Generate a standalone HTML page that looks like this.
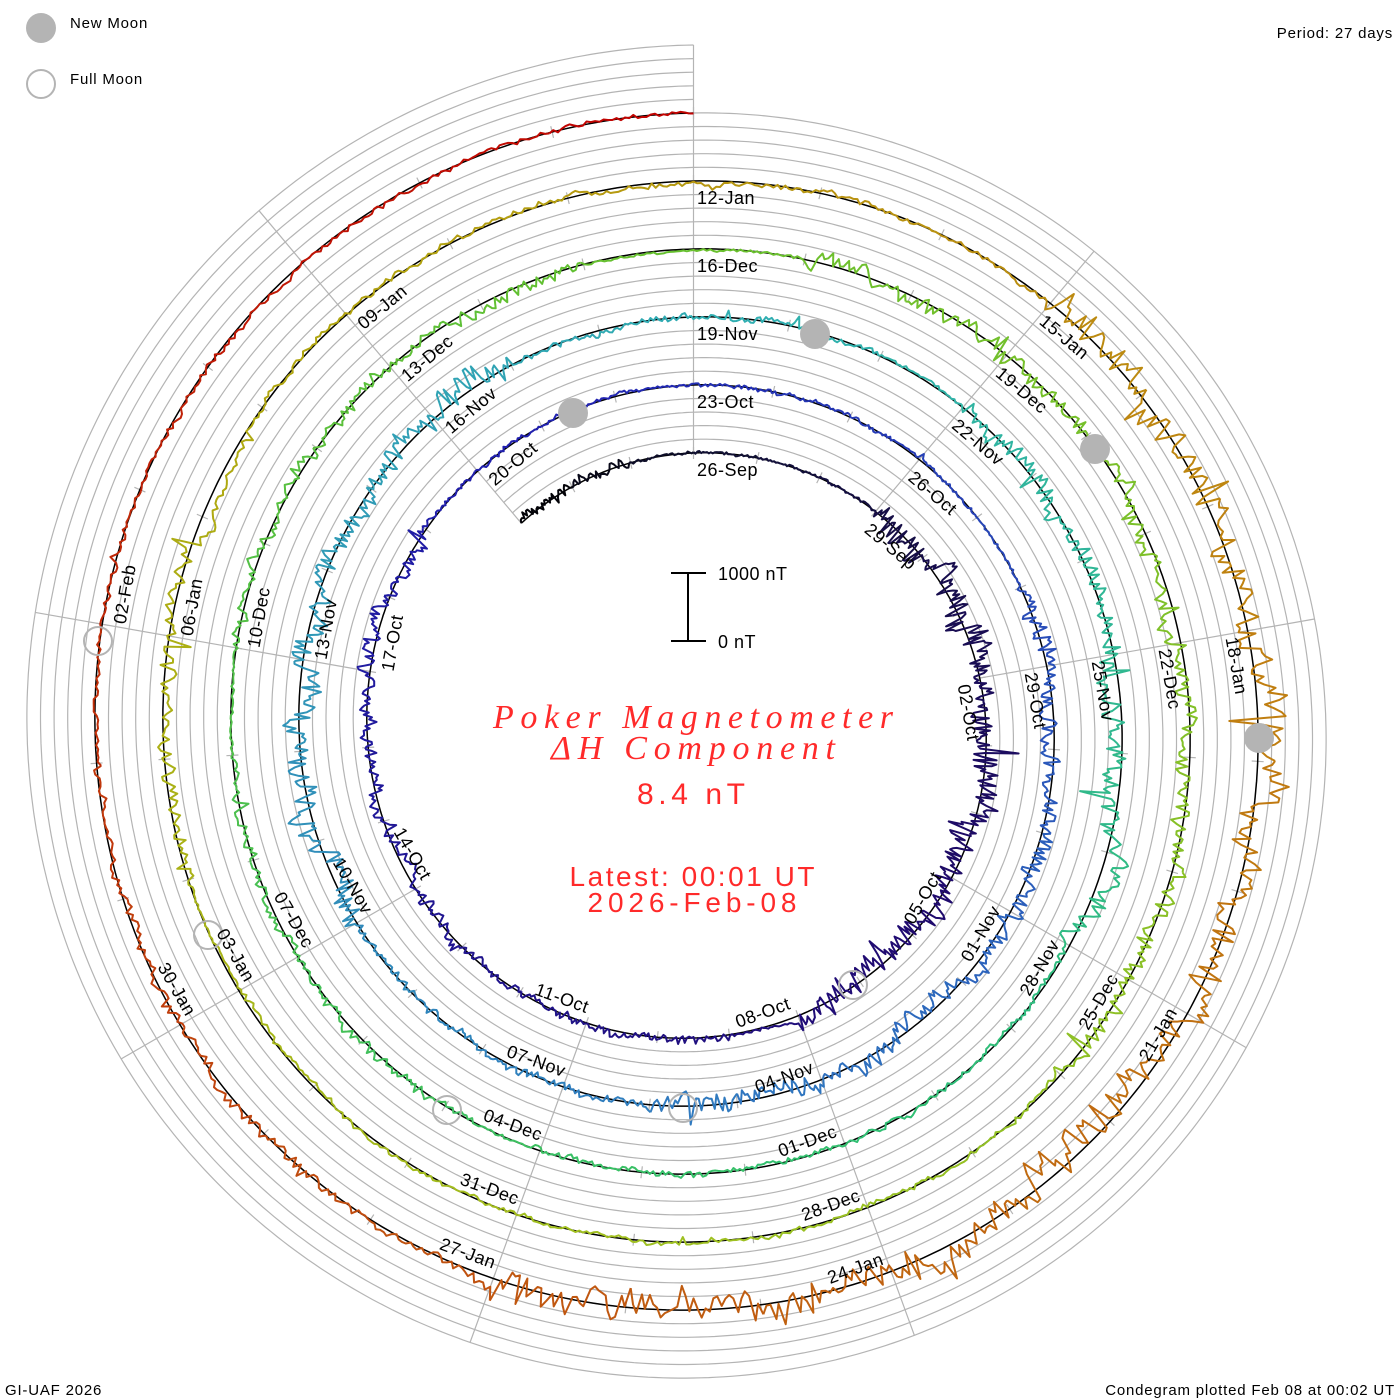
<!DOCTYPE html>
<html><head><meta charset="utf-8"><style>
html,body{margin:0;padding:0;background:#fff;}
svg{display:block;}
.lbl{font-family:"Liberation Sans",sans-serif;font-size:18px;fill:#000;letter-spacing:0.5px;}
.corner{font-family:"Liberation Sans",sans-serif;font-size:15px;fill:#000;letter-spacing:0.8px;}
.red{fill:#ff2a2a;}
</style></head><body>
<svg id="s" width="1400" height="1400" viewBox="0 0 1400 1400" xmlns="http://www.w3.org/2000/svg">
<g id="grid"></g>
<g id="data"></g>
<g id="moons" fill="#b4b4b4" stroke="none">
<circle cx="815" cy="334" r="15"/><circle cx="573" cy="413" r="15"/><circle cx="1095" cy="449" r="15"/><circle cx="1259" cy="738" r="15"/>
</g>
<g fill="none" stroke="#b4b4b4" stroke-width="2">
<circle cx="98" cy="641" r="14"/><circle cx="208" cy="935" r="14"/><circle cx="447" cy="1110" r="14"/><circle cx="683" cy="1108" r="14"/><circle cx="853" cy="985" r="14"/>
</g>
<circle cx="41" cy="28" r="15" fill="#b4b4b4"/>
<circle cx="41" cy="84" r="14" fill="none" stroke="#b4b4b4" stroke-width="2"/>
<text class="corner" x="70" y="28">New Moon</text>
<text class="corner" x="70" y="84">Full Moon</text>
<text class="corner" x="1393" y="38" text-anchor="end">Period: 27 days</text>
<text class="corner" x="5" y="1395">GI-UAF 2026</text>
<text class="corner" x="1395" y="1395" text-anchor="end">Condegram plotted Feb 08 at 00:02 UT</text>

<g stroke="#000" stroke-width="2">
<line x1="688" y1="573" x2="688" y2="641"/>
<line x1="671" y1="573" x2="706" y2="573"/>
<line x1="671" y1="641" x2="706" y2="641"/>
</g>
<text class="lbl" x="718" y="580">1000 nT</text>
<text class="lbl" x="718" y="648">0 nT</text>

<g class="red" text-anchor="middle">
<text x="693" y="728" font-family="Liberation Serif,serif" font-style="italic" font-size="34" textLength="400" lengthAdjust="spacing">Poker Magnetometer</text>
<text x="693" y="759" font-family="Liberation Serif,serif" font-style="italic" font-size="34" textLength="284" lengthAdjust="spacing">ΔH Component</text>
<text x="691" y="804" font-family="Liberation Sans,sans-serif" font-size="30" textLength="108" lengthAdjust="spacing">8.4 nT</text>
<text x="692" y="886" font-family="Liberation Sans,sans-serif" font-size="28" textLength="245" lengthAdjust="spacing">Latest: 00:01 UT</text>
<text x="692" y="912" font-family="Liberation Sans,sans-serif" font-size="28" textLength="209" lengthAdjust="spacing">2026-Feb-08</text>
</g>

<g class="lbl">
<text x="697" y="476" transform="rotate(0 693.5 728.5)">26-Sep</text>
<text x="697" y="468.4" transform="rotate(40 693.5 728.5)">29-Sep</text>
<text x="697" y="460.9" transform="rotate(80 693.5 728.5)">02-Oct</text>
<text x="690" y="1017.7" text-anchor="end" transform="rotate(-60 693.5 728.5)">05-Oct</text>
<text x="690" y="1025.2" text-anchor="end" transform="rotate(-20 693.5 728.5)">08-Oct</text>
<text x="690" y="1032.8" text-anchor="end" transform="rotate(20 693.5 728.5)">11-Oct</text>
<text x="690" y="1040.3" text-anchor="end" transform="rotate(60 693.5 728.5)">14-Oct</text>
<text x="697" y="423.1" transform="rotate(280 693.5 728.5)">17-Oct</text>
<text x="697" y="415.6" transform="rotate(320 693.5 728.5)">20-Oct</text>
<text x="697" y="408" transform="rotate(0 693.5 728.5)">23-Oct</text>
<text x="697" y="400.4" transform="rotate(40 693.5 728.5)">26-Oct</text>
<text x="697" y="392.9" transform="rotate(80 693.5 728.5)">29-Oct</text>
<text x="690" y="1085.7" text-anchor="end" transform="rotate(-60 693.5 728.5)">01-Nov</text>
<text x="690" y="1093.2" text-anchor="end" transform="rotate(-20 693.5 728.5)">04-Nov</text>
<text x="690" y="1100.8" text-anchor="end" transform="rotate(20 693.5 728.5)">07-Nov</text>
<text x="690" y="1108.3" text-anchor="end" transform="rotate(60 693.5 728.5)">10-Nov</text>
<text x="697" y="355.1" transform="rotate(280 693.5 728.5)">13-Nov</text>
<text x="697" y="347.6" transform="rotate(320 693.5 728.5)">16-Nov</text>
<text x="697" y="340" transform="rotate(0 693.5 728.5)">19-Nov</text>
<text x="697" y="332.4" transform="rotate(40 693.5 728.5)">22-Nov</text>
<text x="697" y="324.9" transform="rotate(80 693.5 728.5)">25-Nov</text>
<text x="690" y="1153.7" text-anchor="end" transform="rotate(-60 693.5 728.5)">28-Nov</text>
<text x="690" y="1161.2" text-anchor="end" transform="rotate(-20 693.5 728.5)">01-Dec</text>
<text x="690" y="1168.8" text-anchor="end" transform="rotate(20 693.5 728.5)">04-Dec</text>
<text x="690" y="1176.3" text-anchor="end" transform="rotate(60 693.5 728.5)">07-Dec</text>
<text x="697" y="287.1" transform="rotate(280 693.5 728.5)">10-Dec</text>
<text x="697" y="279.6" transform="rotate(320 693.5 728.5)">13-Dec</text>
<text x="697" y="272" transform="rotate(0 693.5 728.5)">16-Dec</text>
<text x="697" y="264.4" transform="rotate(40 693.5 728.5)">19-Dec</text>
<text x="697" y="256.9" transform="rotate(80 693.5 728.5)">22-Dec</text>
<text x="690" y="1221.7" text-anchor="end" transform="rotate(-60 693.5 728.5)">25-Dec</text>
<text x="690" y="1229.2" text-anchor="end" transform="rotate(-20 693.5 728.5)">28-Dec</text>
<text x="690" y="1236.8" text-anchor="end" transform="rotate(20 693.5 728.5)">31-Dec</text>
<text x="690" y="1244.3" text-anchor="end" transform="rotate(60 693.5 728.5)">03-Jan</text>
<text x="697" y="219.1" transform="rotate(280 693.5 728.5)">06-Jan</text>
<text x="697" y="211.6" transform="rotate(320 693.5 728.5)">09-Jan</text>
<text x="697" y="204" transform="rotate(0 693.5 728.5)">12-Jan</text>
<text x="697" y="196.4" transform="rotate(40 693.5 728.5)">15-Jan</text>
<text x="697" y="188.9" transform="rotate(80 693.5 728.5)">18-Jan</text>
<text x="690" y="1289.7" text-anchor="end" transform="rotate(-60 693.5 728.5)">21-Jan</text>
<text x="690" y="1297.2" text-anchor="end" transform="rotate(-20 693.5 728.5)">24-Jan</text>
<text x="690" y="1304.8" text-anchor="end" transform="rotate(20 693.5 728.5)">27-Jan</text>
<text x="690" y="1312.3" text-anchor="end" transform="rotate(60 693.5 728.5)">30-Jan</text>
<text x="697" y="151.1" transform="rotate(280 693.5 728.5)">02-Feb</text>
</g>
</svg>
<script>
(function(){
var NS="http://www.w3.org/2000/svg";
var cx=693.5,cy=728.5,r0=275.5,d=68,T0=-3,T1=135;
function pt(t,off){var th=t/27*2*Math.PI;var r=r0+d*t/27+off;return [cx+r*Math.sin(th),cy-r*Math.cos(th)];}
function el(tag,attrs,parent){var e=document.createElementNS(NS,tag);for(var k in attrs)e.setAttribute(k,attrs[k]);parent.appendChild(e);return e;}
var grid=document.getElementById('grid'),data=document.getElementById('data');
for(var k=1;k<=5;k++){var s="";for(var t=T0;t<=T1+0.001;t+=0.05){var p=pt(t,k*13.6);s+=(s?"L":"M")+p[0].toFixed(1)+","+p[1].toFixed(1);}
el('path',{d:s,fill:'none',stroke:'#b4b4b4','stroke-width':1.2},grid);}
for(var a=0;a<360;a+=40){var th=a*Math.PI/180;var rin=(a==320)?(r0-d*40/360):(r0+d*a/360);
var rout=(a==0)?(r0+5*d+d):(r0+4*d+d*a/360+d);
el('line',{x1:cx+rin*Math.sin(th),y1:cy-rin*Math.cos(th),x2:cx+rout*Math.sin(th),y2:cy-rout*Math.cos(th),stroke:'#b4b4b4','stroke-width':1.2},grid);}
for(var t=-2;t<=T1;t++){var a=pt(t,-6),b=pt(t,6);el('line',{x1:a[0],y1:a[1],x2:b[0],y2:b[1],stroke:'#b4b4b4','stroke-width':1.2},grid);}
var s="";for(var t=T0;t<=T1+0.001;t+=0.05){var p=pt(t,0);s+=(s?"L":"M")+p[0].toFixed(1)+","+p[1].toFixed(1);}
el('path',{d:s,fill:'none',stroke:'#000','stroke-width':1.5},grid);
var keys=[[-3,[0,0,0]],[0,[16,16,48]],[10,[32,10,112]],[25,[32,32,176]],[40,[48,120,192]],[55,[48,176,176]],[66,[48,192,112]],[80,[100,192,48]],[95,[160,192,32]],[104,[176,168,16]],[114,[192,128,16]],[124,[192,80,16]],[135,[192,0,0]]];
function col(t){for(var i=0;i<keys.length-1;i++){if(t<=keys[i+1][0]){var f=(t-keys[i][0])/(keys[i+1][0]-keys[i][0]);var a=keys[i][1],b=keys[i+1][1];return 'rgb('+Math.round(a[0]+(b[0]-a[0])*f)+','+Math.round(a[1]+(b[1]-a[1])*f)+','+Math.round(a[2]+(b[2]-a[2])*f)+')';}}return 'rgb(192,0,0)';}
var act=[[-3,-1,10],[3,12,24],[13,17,8],[17,23,14],[23,30,4],[32,41,18],[41,45,8],[45,52,24],[52,56,6],[57,63,20],[63,70,6],[70,74,10],[75,80,12],[82,91,18],[91,99,5],[100,103,16],[103,111,6],[111,123,30],[123,128,10],[128,135,5]];
function amp(t){for(var i=0;i<act.length;i++)if(t>=act[i][0]&&t<act[i][1])return act[i][2];return 3;}
var seed=12345;function rnd(){seed|=0;seed=seed+0x6D2B79F5|0;var x=Math.imul(seed^seed>>>15,1|seed);x=x+Math.imul(x^x>>>7,61|x)^x;return((x^x>>>14)>>>0)/4294967296;}
var slow=0,step=0.03,prev=null,cur="",curDay=null;
function flush(){if(cur&&curDay!==null)el('path',{d:cur,fill:'none',stroke:col(curDay+0.5),'stroke-width':2,'stroke-linejoin':'round'},data);}
for(var t=T0;t<=T1+0.0001;t+=step){var A=amp(t);
slow+=(rnd()-0.5)*A*0.4;slow*=0.92;
var dev=slow+(rnd()-0.5)*A*0.9;
if(rnd()<0.01*A/10)dev+=(rnd()<0.6?-1:1)*A*(0.5+rnd()*0.8);
var p=pt(t,dev);var day=Math.floor(t);
if(day!==curDay){flush();curDay=day;cur=prev?("M"+prev[0].toFixed(1)+","+prev[1].toFixed(1)+"L"+p[0].toFixed(1)+","+p[1].toFixed(1)):("M"+p[0].toFixed(1)+","+p[1].toFixed(1));}
else cur+="L"+p[0].toFixed(1)+","+p[1].toFixed(1);
prev=p;}
flush();
})();
</script>
</body></html>
